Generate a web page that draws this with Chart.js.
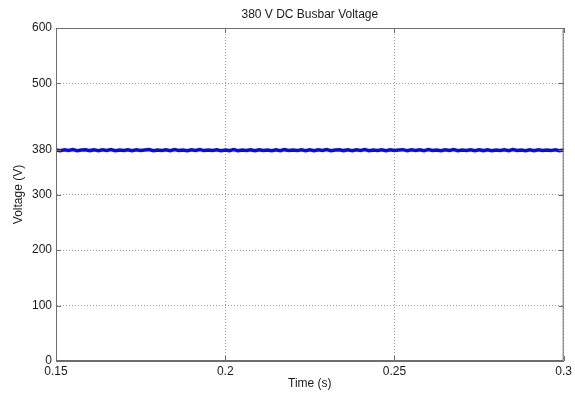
<!DOCTYPE html>
<html lang="en">

<head>
    <meta charset="UTF-8">
    <script src="https://cdn.jsdelivr.net/npm/chart.js"></script>
    <title>380 V DC Busbar Voltage</title>
    <style>
        html, body { margin: 0; padding: 0; background: #fff; }
        #wrap { width: 575px; height: 398px; }
    </style>
</head>

<body>
    <div id="wrap">
        <canvas id="busbar"></canvas>
    </div>
</body>

</html>
<script>
    const titulo = '380 V DC Busbar Voltage';
    const tempo = [
        0.15, 0.15125, 0.1525, 0.15375, 0.155, 0.15625, 0.1575, 0.15875, 0.16, 0.16125,
        0.1625, 0.16375, 0.165, 0.16625, 0.1675, 0.16875, 0.17, 0.17125, 0.1725, 0.17375,
        0.175, 0.17625, 0.1775, 0.17875, 0.18, 0.18125, 0.1825, 0.18375, 0.185, 0.18625,
        0.1875, 0.18875, 0.19, 0.19125, 0.1925, 0.19375, 0.195, 0.19625, 0.1975, 0.19875,
        0.2, 0.20125, 0.2025, 0.20375, 0.205, 0.20625, 0.2075, 0.20875, 0.21, 0.21125,
        0.2125, 0.21375, 0.215, 0.21625, 0.2175, 0.21875, 0.22, 0.22125, 0.2225, 0.22375,
        0.225, 0.22625, 0.2275, 0.22875, 0.23, 0.23125, 0.2325, 0.23375, 0.235, 0.23625,
        0.2375, 0.23875, 0.24, 0.24125, 0.2425, 0.24375, 0.245, 0.24625, 0.2475, 0.24875,
        0.25, 0.25125, 0.2525, 0.25375, 0.255, 0.25625, 0.2575, 0.25875, 0.26, 0.26125,
        0.2625, 0.26375, 0.265, 0.26625, 0.2675, 0.26875, 0.27, 0.27125, 0.2725, 0.27375,
        0.275, 0.27625, 0.2775, 0.27875, 0.28, 0.28125, 0.2825, 0.28375, 0.285, 0.28625,
        0.2875, 0.28875, 0.29, 0.29125, 0.2925, 0.29375, 0.295, 0.29625, 0.2975, 0.29875,
        0.3
    ];
    const tensao = [
        380.3, 378.9, 380.6, 379.2, 380.8, 379.0, 380.1, 380.7, 379.1, 380.4,
        378.9, 380.6, 379.4, 380.9, 379.0, 380.2, 379.3, 380.7, 378.9, 380.5,
        379.2, 380.1, 380.9, 378.9, 380.3, 379.5, 380.6, 379.0, 380.8, 379.3,
        380.2, 378.8, 380.6, 379.4, 380.9, 379.1, 380.0, 379.4, 380.7, 378.9,
        380.3, 379.1, 380.8, 379.0, 380.2, 379.5, 380.5, 378.8, 380.7, 379.3,
        380.2, 379.0, 380.6, 378.9, 380.8, 379.4, 380.1, 379.1, 380.6, 379.0,
        380.4, 378.9, 380.7, 379.3, 380.9, 379.0, 380.2, 380.6, 379.1, 380.4,
        379.0, 380.7, 379.3, 380.8, 378.9, 380.3, 379.4, 380.6, 379.0, 380.5,
        379.2, 380.0, 380.8, 379.0, 380.4, 379.5, 380.7, 379.1, 380.9, 379.2,
        380.1, 378.9, 380.6, 379.3, 380.8, 379.0, 380.2, 379.5, 380.6, 378.9,
        380.4, 379.1, 380.7, 379.0, 380.3, 379.4, 380.5, 378.9, 380.8, 379.2,
        380.1, 379.0, 380.6, 378.9, 380.7, 379.3, 380.2, 379.1, 380.5, 379.0,
        380.3
    ];
    const ticksX = [0.15, 0.2, 0.25, 0.3];
    const ticksY = [0, 100, 200, 300, 380, 500, 600];

    const fonte = '"Liberation Sans", Arial, sans-serif';
    const corTexto = '#1a1a1a';
    const corEixo = '#6e6e6e';

    // moldura fechada, marcas internas e titulo (estilo matlab)
    const moldura = {
        id: 'moldura',
        afterDraw(chart) {
            const { ctx, chartArea: a, scales: { x, y } } = chart;
            ctx.save();
            ctx.strokeStyle = corEixo;
            ctx.lineWidth = 1;
            ctx.strokeRect(a.left + 0.5, a.top + 0.5, a.width - 1, a.height - 1);
            ctx.beginPath();
            ticksX.forEach(function (v) {
                const px = Math.round(x.getPixelForValue(v)) + 0.5;
                ctx.moveTo(px, a.bottom); ctx.lineTo(px, a.bottom - 5);
                ctx.moveTo(px, a.top); ctx.lineTo(px, a.top + 5);
            });
            ticksY.forEach(function (v) {
                const py = Math.round(y.getPixelForValue(v)) + 0.5;
                ctx.moveTo(a.left, py); ctx.lineTo(a.left + 5, py);
                ctx.moveTo(a.right, py); ctx.lineTo(a.right - 5, py);
            });
            ctx.stroke();
            ctx.fillStyle = corTexto;
            ctx.font = '12px ' + fonte;
            ctx.textAlign = 'center';
            ctx.textBaseline = 'middle';
            ctx.fillText(titulo, (a.left + a.right) / 2, 15);
            ctx.restore();
        }
    };

    const grafico = document.getElementById('busbar');

    var graf = new Chart(grafico, {
        type: 'line',
        data: {
            datasets: [{
                label: 'Voltage',
                data: tempo.map((t, i) => ({ x: t, y: tensao[i] })),
                borderColor: '#0a0ae6',
                borderWidth: 3.5,
                pointRadius: 0,
                tension: 0
            }]
        },
        plugins: [moldura],
        options: {
            responsive: true,
            maintainAspectRatio: false,
            animation: false,
            layout: { padding: { top: 28, right: 10, left: 0, bottom: 0 } },
            plugins: {
                legend: { display: false },
                tooltip: { enabled: false }
            },
            scales: {
                x: {
                    type: 'linear',
                    min: 0.15,
                    max: 0.3,
                    afterBuildTicks: (s) => { s.ticks = ticksX.map(v => ({ value: v })); },
                    afterFit: (s) => { s.height = 37; },
                    ticks: {
                        color: corTexto,
                        font: { family: fonte, size: 12 },
                        padding: 3,
                        maxRotation: 0,
                        callback: (v) => String(v)
                    },
                    grid: { color: '#9a9a9a', drawTicks: false },
                    border: { color: corEixo, dash: [1, 2] },
                    title: {
                        display: true,
                        text: 'Time (s)',
                        color: corTexto,
                        font: { family: fonte, size: 12 },
                        padding: { top: 0, bottom: 7 }
                    }
                },
                y: {
                    min: 0,
                    max: 600,
                    afterBuildTicks: (s) => { s.ticks = ticksY.map(v => ({ value: v })); },
                    afterFit: (s) => { s.width = 56; },
                    ticks: {
                        color: corTexto,
                        font: { family: fonte, size: 12 },
                        padding: 4,
                        callback: (v) => String(v)
                    },
                    grid: { color: '#9a9a9a', drawTicks: false },
                    border: { color: corEixo, dash: [1, 2] },
                    title: {
                        display: true,
                        text: 'Voltage (V)',
                        color: corTexto,
                        font: { family: fonte, size: 12 },
                        padding: { top: 11, bottom: 0 }
                    }
                }
            }
        }
    });
</script>
